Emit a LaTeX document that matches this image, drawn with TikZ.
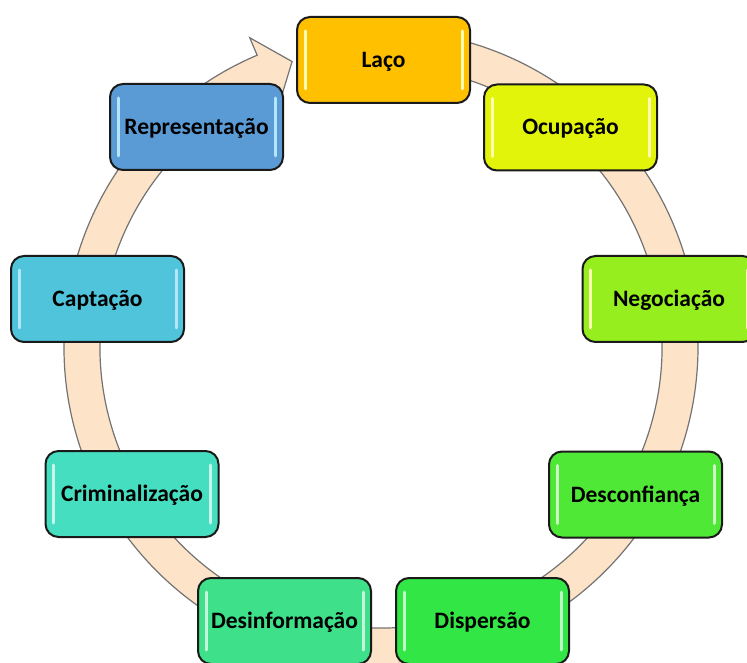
\documentclass[tikz,border=0pt]{standalone}
\usepackage{fontspec}
\setmainfont{Carlito}
\usetikzlibrary{calc}
\definecolor{cLaco}{HTML}{FFC000}
\definecolor{cOcup}{HTML}{E2F40A}
\definecolor{cNego}{HTML}{96EE1E}
\definecolor{cDesc}{HTML}{50E836}
\definecolor{cDisp}{HTML}{32E646}
\definecolor{cDesi}{HTML}{3EE08A}
\definecolor{cCrim}{HTML}{46DEC0}
\definecolor{cCapt}{HTML}{4FC4DA}
\definecolor{cRepr}{HTML}{5B9BD5}
\definecolor{bandfill}{HTML}{FDE3C8}
\definecolor{bandline}{HTML}{737373}
\definecolor{boxline}{HTML}{1A1A1A}
\newcommand{\hlbar}[2]{%
  \draw[hlstyle, draw=#2!30!white] ($(#1.north west)+(9,-15)$) -- ($(#1.south west)+(9,15)$);
  \draw[hlstyle, draw=#2!30!white] ($(#1.north east)+(-9,-15)$) -- ($(#1.south east)+(-9,15)$);}
\begin{document}
\begin{tikzpicture}[x=1pt,y=1pt,
  box/.style={draw=boxline, line width=2pt, rounded corners=13pt,
    minimum width=173pt, minimum height=86pt, inner sep=0pt,
    text height=15pt, text depth=0pt,
    font=\fontsize{23.5}{28}\selectfont\bfseries, text=black},
  hlstyle/.style={line width=3pt, line cap=round},
  band/.style={fill=bandfill, draw=bandline, line width=1.2pt}]
\useasboundingbox (0,0) rectangle (747,662);
\coordinate (c) at (381,315);
\path[band] ($(c)+(85:317pt)$) arc[start angle=85, end angle=-247, radius=317pt]
  -- ($(c)+(113:336pt)$) -- ($(c)+(107.3:299pt)$) -- ($(c)+(113:262pt)$)
  -- ($(c)+(113:281pt)$) arc[start angle=113, end angle=445, radius=281pt] -- cycle;
\node[box, fill=cLaco] (laco) at (383.5,602) {Laço};
\node[box, fill=cOcup] (ocup) at (570.5,534.5) {Ocupação};
\node[box, fill=cNego] (nego) at (669,363) {Negociação};
\node[box, fill=cDesc] (desc) at (635.5,167.5) {Desconfiança};
\node[box, fill=cDisp] (disp) at (482.5,41) {Dispersão};
\node[box, fill=cDesi] (desi) at (284.5,41) {Desinformação};
\node[box, fill=cCrim] (crim) at (132,168) {Criminalização};
\node[box, fill=cCapt] (capt) at (97.5,363) {Captação};
\node[box, fill=cRepr] (repr) at (196.5,535) {Representação};
\hlbar{laco}{yellow}
\hlbar{ocup}{yellow}
\hlbar{nego}{yellow}
\hlbar{desc}{cDesc}
\hlbar{disp}{cDisp}
\hlbar{desi}{cDesi}
\hlbar{crim}{cCrim}
\hlbar{capt}{cyan}
\hlbar{repr}{cyan}
\end{tikzpicture}
\end{document}
